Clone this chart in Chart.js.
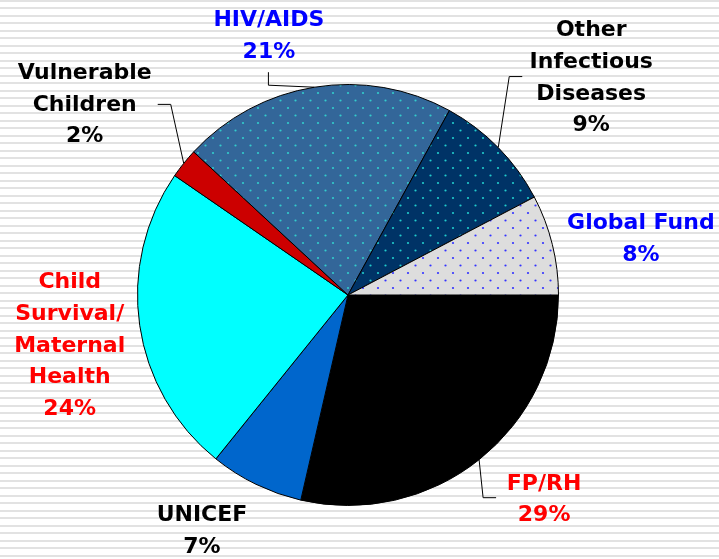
<!DOCTYPE html>
<html>
<head>
<meta charset="utf-8">
<script src="https://cdn.jsdelivr.net/npm/chart.js@4/dist/chart.umd.min.js"></script>
<style>
  html, body { margin: 0; padding: 0; }
  body {
    width: 719px; height: 559px; overflow: hidden;
    background: repeating-linear-gradient(to bottom, #e2e2e2 0px, #e2e2e2 2px, #ffffff 2px, #ffffff 7.5px);
  }
  canvas { display: block; }
</style>
</head>
<body>
<canvas id="c" width="719" height="559"></canvas>
<script>
// ---- data (clockwise from 3 o'clock) ----
const categories = ["FP/RH", "UNICEF", "Child Survival/ Maternal Health", "Vulnerable Children", "HIV/AIDS", "Other Infectious Diseases", "Global Fund"];
const labelLines = [
  ["FP/RH"],
  ["UNICEF"],
  ["Child", "Survival/", "Maternal", "Health"],
  ["Vulnerable", "Children"],
  ["HIV/AIDS"],
  ["Other", "Infectious", "Diseases"],
  ["Global Fund"]
];
// slice sizes
const shares = [28.6, 7.2, 23.8, 2.3, 21.1, 9.3, 7.7];
// percentages printed on the chart
const pctLabels = ["29%", "7%", "24%", "2%", "21%", "9%", "8%"];

// ---- styles ----
const labelColors = ["#ff0000", "#000000", "#ff0000", "#000000", "#0000ff", "#000000", "#0000ff"];
// label block centre, offset from the slice's outer mid point
const labelOffsets = [[65, 40], [-54, 47], [-70, 20.5], [-99, -58.5], [-45.5, -51], [93, -69.5], [88.5, -5]];
// leader lines: [elbow offset from outer mid point, tail vector] or null
const leaders = [
  [[4, 38], [13, 0]],
  null,
  null,
  [[-13, -59], [-13, 0]],
  [[-46, -2], [0, -13]],
  [[11, -71], [13, 0]],
  null
];

function dotPattern(bg, dot) {
  const c = document.createElement('canvas');
  c.width = 15; c.height = 15;
  const g = c.getContext('2d');
  g.fillStyle = bg; g.fillRect(0, 0, 15, 15);
  g.fillStyle = dot;
  g.beginPath(); g.arc(3, 3, 1.1, 0, Math.PI * 2); g.fill();
  g.beginPath(); g.arc(10.5, 10.5, 1.1, 0, Math.PI * 2); g.fill();
  return document.getElementById('c').getContext('2d').createPattern(c, 'repeat');
}

const fills = [
  "#000000",
  "#0066cc",
  "#00ffff",
  "#cc0000",
  dotPattern("#336699", "#33cccc"),
  dotPattern("#003366", "#22cccc"),
  dotPattern("#dddddd", "#3333ff")
];

const labelPlugin = {
  id: 'sliceLabels',
  afterDatasetsDraw(chart) {
    const ctx = chart.ctx;
    const meta = chart.getDatasetMeta(0);
    const lh = 31.8;
    ctx.save();
    ctx.font = 'bold 22px "DejaVu Sans"';
    ctx.textAlign = 'center';
    ctx.textBaseline = 'middle';
    meta.data.forEach((arc, i) => {
      const p = arc.getProps(['x', 'y', 'startAngle', 'endAngle', 'outerRadius'], true);
      const mid = (p.startAngle + p.endAngle) / 2;
      const ox = p.x + Math.cos(mid) * p.outerRadius;
      const oy = p.y + Math.sin(mid) * p.outerRadius;
      const ld = leaders[i];
      if (ld) {
        const ex = ox + ld[0][0], ey = oy + ld[0][1];
        ctx.beginPath();
        ctx.moveTo(ox, oy);
        ctx.lineTo(ex, ey);
        ctx.lineTo(ex + ld[1][0], ey + ld[1][1]);
        ctx.strokeStyle = '#000';
        ctx.lineWidth = 1;
        ctx.stroke();
      }
      const lines = labelLines[i].concat([pctLabels[i]]);
      const cx = ox + labelOffsets[i][0];
      const cy = oy + labelOffsets[i][1];
      const top = cy - (lines.length - 1) * lh / 2;
      ctx.fillStyle = labelColors[i];
      lines.forEach((t, k) => ctx.fillText(t, cx, top + k * lh));
    });
    ctx.restore();
  }
};

new Chart(document.getElementById('c'), {
  type: 'pie',
  data: {
    labels: categories,
    datasets: [{
      data: shares,
      backgroundColor: fills,
      borderColor: '#000000',
      borderWidth: 1
    }]
  },
  options: {
    responsive: false,
    animation: false,
    rotation: 90,
    layout: { padding: { left: 137, right: 160, top: 84, bottom: 53 } },
    plugins: { legend: { display: false }, tooltip: { enabled: false } }
  },
  plugins: [labelPlugin]
});
</script>
</body>
</html>
